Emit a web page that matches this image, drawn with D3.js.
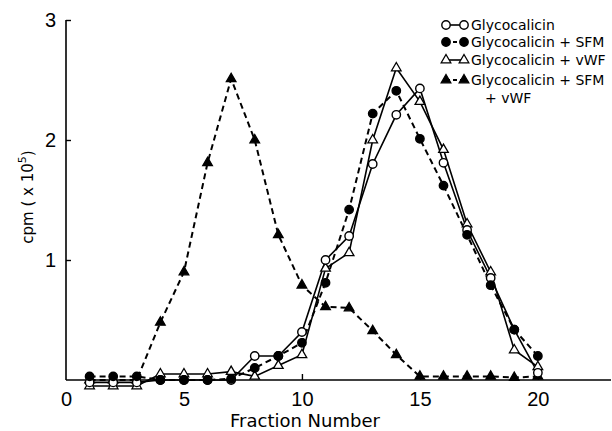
<!DOCTYPE html>
<html>
<head>
<meta charset="utf-8">
<script src="https://cdn.jsdelivr.net/npm/d3@7"></script>
<style>
  body { margin: 0; background: #fff; }
  svg { font-family: "DejaVu Sans", sans-serif; }
</style>
</head>
<body>
<svg id="chart" width="612" height="431"></svg>
<script>
// fractions 1..20
const fractions = d3.range(1, 21);

// cpm (x 10^5)
const glyco        = [-0.02, -0.02, -0.02, 0, 0, 0, 0, 0.2, 0.2, 0.4, 1.0, 1.2, 1.8, 2.21, 2.43, 1.81, 1.25, 0.85, 0.42, 0.06];
const glycoSFM     = [0.03, 0.03, 0.03, 0, 0, 0, 0.01, 0.1, 0.2, 0.31, 0.81, 1.42, 2.22, 2.41, 2.01, 1.62, 1.21, 0.79, 0.42, 0.2];
const glycoVWF     = [-0.05, -0.05, -0.05, 0.05, 0.05, 0.05, 0.07, 0.03, 0.12, 0.21, 0.93, 1.06, 2.0, 2.6, 2.32, 1.92, 1.3, 0.9, 0.25, 0.11];
const glycoSFMVWF  = [0, 0, 0, 0.48, 0.9, 1.81, 2.51, 2.0, 1.21, 0.79, 0.61, 0.6, 0.41, 0.21, 0.03, 0.03, 0.03, 0.03, 0.02, 0.03];

const xTicks = [0, 5, 10, 15, 20];
const yTicks = [1, 2, 3];

const series = [
  { name: "Glycocalicin", values: glyco, shape: "circle", filled: false, dashed: false },
  { name: "Glycocalicin + SFM", values: glycoSFM, shape: "circle", filled: true, dashed: true },
  { name: "Glycocalicin + vWF", values: glycoVWF, shape: "triangle", filled: false, dashed: false },
  { name: "Glycocalicin + SFM", name2: "+ vWF", values: glycoSFMVWF, shape: "triangle", filled: true, dashed: true }
];

const svg = d3.select("#chart");

const x = d3.scaleLinear().domain([0, 23.1]).range([66, 611]);
const y = d3.scaleLinear().domain([0, 3]).range([380, 20]);

// axes
const xAxis = svg.append("g")
  .attr("transform", `translate(0,${y(0)})`)
  .call(d3.axisBottom(x).tickValues(xTicks).tickSize(-6).tickPadding(12).tickFormat(d3.format("d")));
xAxis.select(".domain").attr("d", `M${x(0)},0H${x(23.1)}`).attr("stroke-width", 1.6);
xAxis.selectAll(".tick line").attr("stroke-width", 1.4).filter(d => d === 0).remove();
xAxis.selectAll(".tick text").attr("font-size", 20).attr("fill", "#000");

const yAxis = svg.append("g")
  .attr("transform", `translate(${x(0)},0)`)
  .call(d3.axisLeft(y).tickValues(yTicks).tickSize(-5).tickPadding(10).tickFormat(d3.format("d")));
yAxis.select(".domain").attr("d", `M0,${y(3)}V${y(0)}`).attr("stroke-width", 1.6);
yAxis.selectAll(".tick line").attr("stroke-width", 1.4);
yAxis.selectAll(".tick text").attr("font-size", 20).attr("fill", "#000");

svg.append("text")
  .attr("x", 305).attr("y", 427)
  .attr("text-anchor", "middle")
  .attr("font-size", 18)
  .text("Fraction Number");

const yl = svg.append("text")
  .attr("transform", "translate(33,197) rotate(-90)")
  .attr("text-anchor", "middle")
  .attr("font-size", 15);
yl.append("tspan").text("cpm ( x 10");
yl.append("tspan").attr("dy", -7).attr("font-size", 11).text("5");
yl.append("tspan").attr("dy", 7).text(")");

// lines
const line = d3.line().x((d, i) => x(fractions[i])).y(d => y(d));

series.forEach(s => {
  svg.append("path")
    .datum(s.values)
    .attr("d", line)
    .attr("fill", "none")
    .attr("stroke", "#000")
    .attr("stroke-width", s.dashed ? 2 : 1.6)
    .attr("stroke-dasharray", s.dashed ? "6,4" : null);
});

const tri = d3.symbol().type(d3.symbolTriangle).size(40);

function marker(g, s, cx, cy) {
  if (s.shape === "circle") {
    g.append("circle")
      .attr("cx", cx).attr("cy", cy).attr("r", 4.2)
      .attr("fill", s.filled ? "#000" : "#fff")
      .attr("stroke", "#000").attr("stroke-width", 1.4);
  } else {
    g.append("path")
      .attr("d", tri())
      .attr("transform", `translate(${cx},${cy})`)
      .attr("fill", s.filled ? "#000" : "#fff")
      .attr("stroke", "#000").attr("stroke-width", 1.3);
  }
}

// markers drawn so that the filled circles sit on top near the baseline
[3, 2, 0, 1].forEach(k => {
  const s = series[k];
  const g = svg.append("g");
  s.values.forEach((v, i) => marker(g, s, x(fractions[i]), y(v)));
});

// legend
const legend = svg.append("g");
const legendY = [25, 42, 60, 80];
series.forEach((s, i) => {
  const ly = legendY[i];
  legend.append("line")
    .attr("x1", 446).attr("x2", 464).attr("y1", ly).attr("y2", ly)
    .attr("stroke", "#000").attr("stroke-width", s.dashed ? 2 : 1.6)
    .attr("stroke-dasharray", s.dashed ? "4,3" : null);
  marker(legend, s, 446, ly);
  marker(legend, s, 464, ly);
  legend.append("text")
    .attr("x", 471).attr("y", ly + 5)
    .attr("font-size", 14)
    .text(s.name);
  if (s.name2) {
    legend.append("text")
      .attr("x", 485).attr("y", ly + 23)
      .attr("font-size", 14)
      .text(s.name2);
  }
});
</script>
</body>
</html>
